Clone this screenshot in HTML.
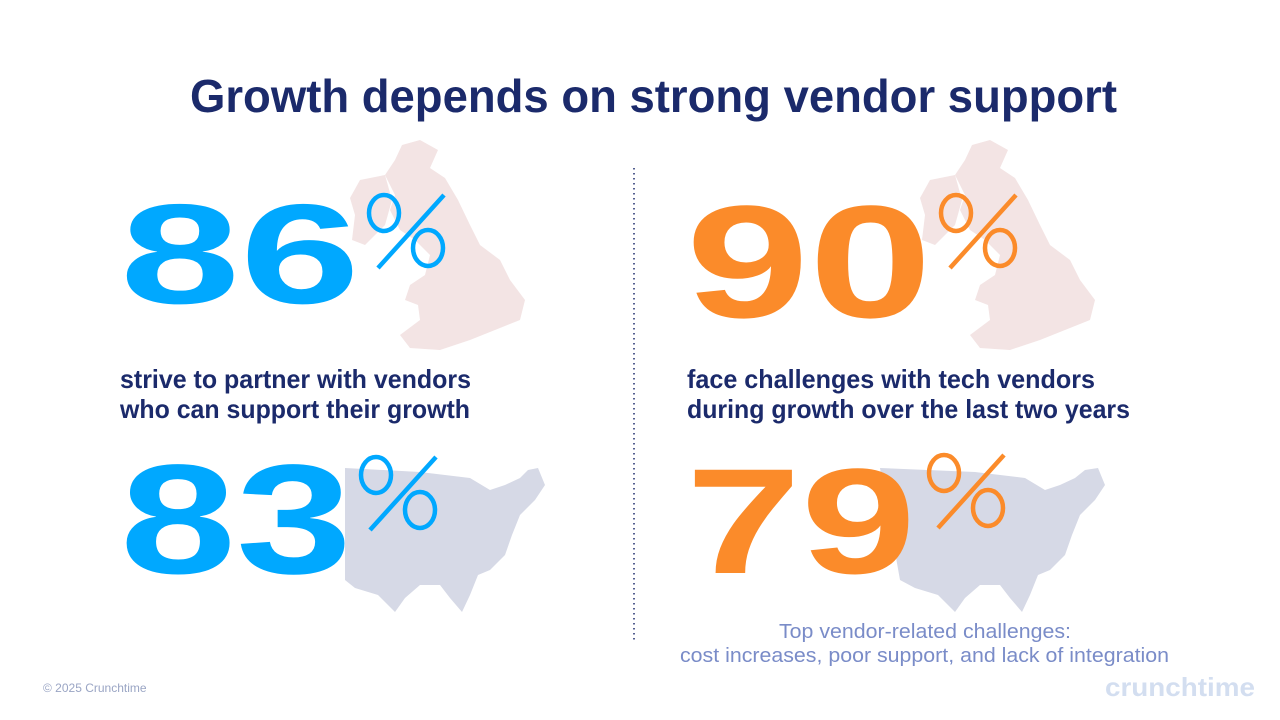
<!DOCTYPE html>
<html><head><meta charset="utf-8"><style>
html,body{margin:0;padding:0;background:#fff;}
svg{display:block;}
</style></head><body>
<svg width="1280" height="720" viewBox="0 0 1280 720" xmlns="http://www.w3.org/2000/svg" font-family="Liberation Sans, sans-serif">
<defs>
<g id="pct-shape" fill="none" stroke-width="4.5">
<ellipse cx="18" cy="20" rx="15" ry="18"/>
<ellipse cx="62" cy="55" rx="15" ry="18"/>
<line x1="78" y1="2" x2="12" y2="75"/>
</g>
</defs>
<rect width="1280" height="720" fill="#fff"/>
<g fill="#f3e4e4">
<path d="M402,145 L420,140 L438,150 L430,168 L445,178 L458,200 L470,225 L480,245 L500,260 L510,280 L525,300 L520,320 L495,330 L470,340 L440,350 L410,348 L400,335 L420,320 L418,305 L405,300 L410,285 L425,275 L430,255 L415,240 L400,230 L390,210 L395,195 L385,175 L395,160 Z"/>
<path d="M360,180 L385,175 L392,200 L385,225 L365,245 L352,240 L355,215 L350,198 Z"/>
</g>
<g fill="#f3e4e4">
<path d="M972,145 L990,140 L1008,150 L1000,168 L1015,178 L1028,200 L1040,225 L1050,245 L1070,260 L1080,280 L1095,300 L1090,320 L1065,330 L1040,340 L1010,350 L980,348 L970,335 L990,320 L988,305 L975,300 L980,285 L995,275 L1000,255 L985,240 L970,230 L960,210 L965,195 L955,175 L965,160 Z"/>
<path d="M930,180 L955,175 L962,200 L955,225 L935,245 L922,240 L925,215 L920,198 Z"/>
</g>
<g fill="#d6d9e6">
<path d="M345,468 L420,472 L470,478 L490,490 L505,485 L520,478 L528,470 L538,468 L545,485 L535,500 L520,515 L512,535 L505,555 L490,570 L478,575 L470,595 L462,612 L450,598 L440,585 L420,585 L405,598 L395,612 L378,595 L355,588 L345,580 Z"/>
</g>
<g fill="#d6d9e6">
<path d="M880,468 L975,472 L1025,478 L1045,490 L1060,485 L1075,478 L1085,470 L1098,468 L1105,485 L1095,500 L1080,515 L1072,535 L1065,555 L1050,570 L1038,575 L1030,595 L1022,612 L1010,598 L1000,585 L980,585 L965,598 L955,612 L938,595 L915,588 L900,580 Z"/>
</g>
<text x="190" y="112" font-size="46" font-weight="bold" fill="#1b2a6b" textLength="927" lengthAdjust="spacingAndGlyphs">Growth depends on strong vendor support</text>
<line x1="634" y1="168" x2="634" y2="642" stroke="#1b2a6b" stroke-width="1.5" stroke-dasharray="1.5,3.5"/>
<text x="120" y="303" font-size="142" font-weight="bold" fill="#00a8ff" textLength="240" lengthAdjust="spacingAndGlyphs">86</text>
<use href="#pct-shape" x="366" y="193" stroke="#00a8ff"/>
<text font-size="26" font-weight="bold" fill="#1b2a6b">
<tspan x="120" y="388" textLength="351" lengthAdjust="spacingAndGlyphs">strive to partner with vendors</tspan>
<tspan x="120" y="418" textLength="350" lengthAdjust="spacingAndGlyphs">who can support their growth</tspan></text>
<text x="120" y="573" font-size="156" font-weight="bold" fill="#00a8ff" textLength="232" lengthAdjust="spacingAndGlyphs">83</text>
<use href="#pct-shape" x="358" y="455" stroke="#00a8ff"/>
<text x="686" y="317" font-size="160" font-weight="bold" fill="#fb8b2a" textLength="246" lengthAdjust="spacingAndGlyphs">90</text>
<use href="#pct-shape" x="938" y="193" stroke="#fb8b2a"/>
<text font-size="26" font-weight="bold" fill="#1b2a6b">
<tspan x="687" y="388" textLength="408" lengthAdjust="spacingAndGlyphs">face challenges with tech vendors</tspan>
<tspan x="687" y="418" textLength="443" lengthAdjust="spacingAndGlyphs">during growth over the last two years</tspan></text>
<text x="686" y="573" font-size="150" font-weight="bold" fill="#fb8b2a" textLength="230" lengthAdjust="spacingAndGlyphs">79</text>
<use href="#pct-shape" x="926" y="453" stroke="#fb8b2a"/>
<text font-size="20" fill="#7a8cc8">
<tspan x="779" y="638" textLength="292" lengthAdjust="spacingAndGlyphs">Top vendor-related challenges:</tspan>
<tspan x="680" y="662" textLength="489" lengthAdjust="spacingAndGlyphs">cost increases, poor support, and lack of integration</tspan></text>
<text x="43" y="692" font-size="12" fill="#9aa5c4">© 2025 Crunchtime</text>
<text x="1105" y="696" font-size="26" font-weight="bold" fill="#d3def0" textLength="150" lengthAdjust="spacingAndGlyphs">crunchtime</text>
</svg>
</body></html>
